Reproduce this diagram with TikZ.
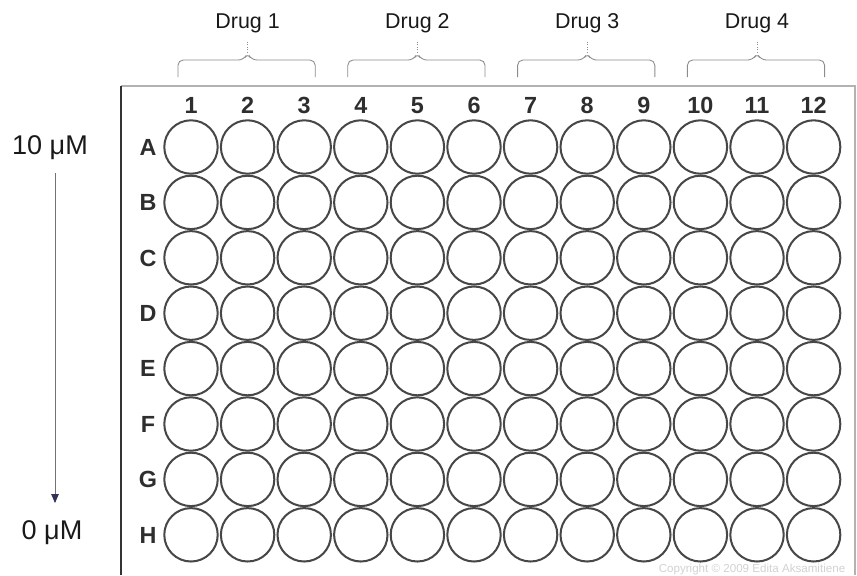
\documentclass[tikz,border=0pt]{standalone}
\usepackage{fontspec}
\setmainfont{Liberation Sans}
\usetikzlibrary{arrows.meta}

\tikzset{
    well/.style={circle,draw=black!72,line width=1.15pt,minimum size=30.4pt,inner sep=0pt},
    platelabel/.style={font=\bfseries\fontsize{13.3}{13}\selectfont,text=black!82,text height=9.5pt,text depth=0pt},
    druglabel/.style={font=\fontsize{12.2}{12}\selectfont,text=black!90},
    conclabel/.style={font=\fontsize{15.4}{15}\selectfont,text=black!90},
}

\begin{document}
\begin{tikzpicture}[x=0.02cm,y=-0.02cm]
    \useasboundingbox (0,0) rectangle (857,575);
    % plate frame
    \draw[black!30,line width=0.6pt] (121,86) -- (855,86) -- (855,575);
    \draw[black!80,line width=1.4pt] (121,86) -- (121,575);
    % column numbers
    \foreach \c in {1,...,12}
        \node[platelabel] (col\c) at ({191+56.6*(\c-1)},105) {\c};
    % rows of wells
    \foreach \r [count=\i] in {A,B,C,D,E,F,G,H} {
        \node[platelabel] (row\r) at (148,{147+55.4*(\i-1)}) {\r};
        \foreach \c in {1,...,12}
            \node[well] (w-\r-\c) at ({191+56.6*(\c-1)},{147+55.4*(\i-1)}) {};
    }
    % drug braces
    \foreach \d/\a/\b in {1/1/3,2/4/6,3/7/9,4/10/12} {
        \pgfmathsetmacro\xl{191+56.6*(\a-1)-13}
        \pgfmathsetmacro\xr{191+56.6*(\b-1)+11}
        \pgfmathsetmacro\xm{191+56.6*\a}
        \node[druglabel] (drug\d) at (\xm,23) {Drug \d};
        \coordinate (tip\d) at (\xm,53);
        \coordinate (dot\d) at (\xm,41);
        \draw[black!45,line width=0.5pt,rounded corners=3pt]
            (\xl,77) -- (\xl,60) -- ({\xm-4},60) -- (tip\d) -- ({\xm+4},60) -- (\xr,60) -- (\xr,77);
        \draw[black!45,line width=0.5pt,densely dotted] (tip\d) -- (dot\d);
    }
    % concentration arrow
    \node[conclabel] (hi) at (50,148) {10 μM};
    \node[conclabel] (lo) at (52,533) {0 μM};
    \coordinate (arrtop) at (55,173);
    \coordinate (arrbot) at (55,503);
    \draw[black!55,line width=0.5pt,-{Triangle[length=5pt,width=4.2pt,color=black!75!blue!60!gray]}] (arrtop) -- (arrbot);
    \node[text=black!18,font=\fontsize{6.6}{7}\selectfont] (copy) at (752,569) {Copyright © 2009 Edita Aksamitiene};
\end{tikzpicture}
\end{document}
